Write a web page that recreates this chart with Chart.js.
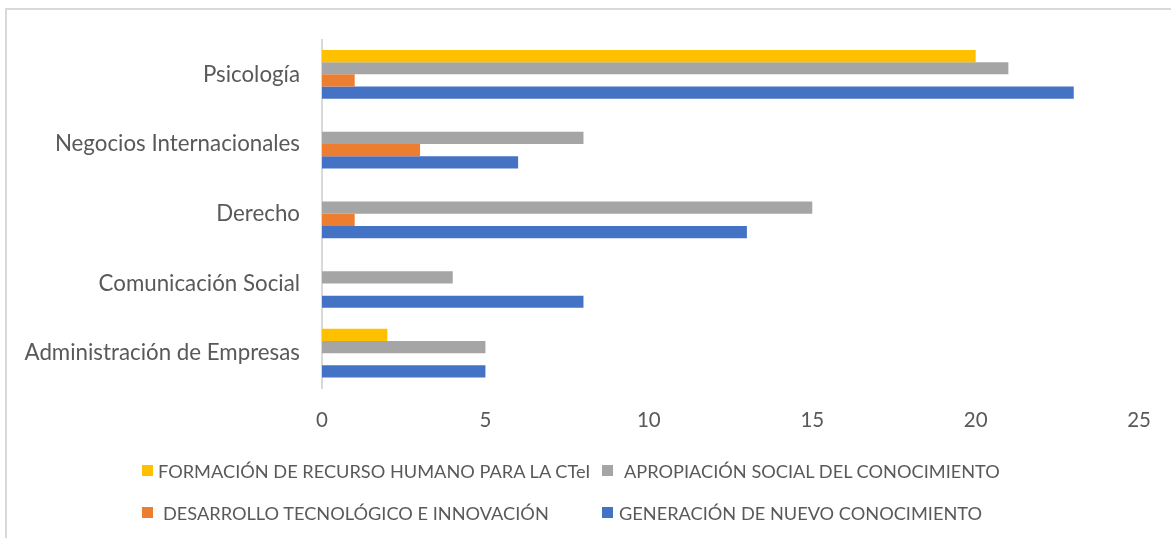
<!DOCTYPE html>
<html>
<head>
<meta charset="utf-8">
<script src="https://cdn.jsdelivr.net/npm/chart.js@4"></script>
<style>
  body { margin: 0; background: #fff; }
  #wrap { position: relative; width: 1171px; height: 538px; overflow: hidden; font-family: Lato, sans-serif; }
  #frame { position: absolute; left: 5px; top: 8px; width: 1200px; height: 600px; border: 2px solid #d9d9d9; box-sizing: border-box; }
  #grafico { position: absolute; left: 0; top: 0; }
  .ley { position: absolute; font-size: 18.2px; color: #595959; white-space: nowrap; line-height: 20px; }
  .cuadro { position: absolute; width: 11px; height: 11px; }
</style>
</head>
<body>
<div id="wrap">
  <div id="frame"></div>
  <canvas id="grafico" width="1171" height="538"></canvas>
  <div id="leyenda"></div>
</div>
<script>
var programas = ["Psicología", "Negocios Internacionales", "Derecho", "Comunicación Social", "Administración de Empresas"];
var formacion = [20, 0, 0, 0, 2];
var apropiacion = [21, 8, 15, 4, 5];
var desarrollo = [1, 3, 1, 0, 0];
var generacion = [23, 6, 13, 8, 5];
var ticksX = [0, 5, 10, 15, 20, 25];

var series = [
    { label: "FORMACIÓN DE RECURSO HUMANO PARA LA CTeI", data: formacion, color: "#FFC000" },
    { label: "APROPIACIÓN SOCIAL DEL CONOCIMIENTO", data: apropiacion, color: "#A5A5A5" },
    { label: "DESARROLLO TECNOLÓGICO E INNOVACIÓN", data: desarrollo, color: "#ED7D31" },
    { label: "GENERACIÓN DE NUEVO CONOCIMIENTO", data: generacion, color: "#4472C4" }
];

// posiciones de la leyenda (cuadro x, texto x, y centro)
var posLeyenda = [
    [142, 158, 471],
    [602, 624, 471],
    [142, 163, 513],
    [602, 619, 513]
];

let ctx = document.getElementById("grafico").getContext("2d");
let grafico = new Chart(ctx, {
    type: "bar",
    data: {
        labels: programas,
        datasets: series.map(function (s) {
            return {
                label: s.label,
                data: s.data,
                backgroundColor: s.color,
                categoryPercentage: 0.70,
                barPercentage: 1.0
            };
        })
    },
    options: {
        indexAxis: "y",
        responsive: false,
        animation: false,
        layout: { padding: { left: 0, right: 31, top: 39.5, bottom: 0 } },
        plugins: {
            legend: { display: false },
            tooltip: { enabled: false }
        },
        scales: {
            x: {
                min: 0,
                max: 25,
                afterBuildTicks: function (scale) {
                    scale.ticks = ticksX.map(function (v) { return { value: v }; });
                },
                grid: { display: false, drawTicks: false },
                border: { display: false },
                ticks: {
                    padding: 20,
                    color: "#595959",
                    font: { family: "Lato", size: 20.5 }
                },
                afterFit: function (scale) { scale.height = 150; }
            },
            y: {
                grid: { display: false, drawTicks: false },
                border: { display: true, color: "#d9d9d9", width: 2 },
                ticks: {
                    padding: 22,
                    color: "#595959",
                    font: { family: "Lato", size: 22.3 }
                },
                afterFit: function (scale) { scale.width = 322; }
            }
        }
    }
});

var leyenda = document.getElementById("leyenda");
series.forEach(function (s, i) {
    var p = posLeyenda[i];
    var c = document.createElement("div");
    c.className = "cuadro";
    c.style.background = s.color;
    c.style.left = p[0] + "px";
    c.style.top = (p[2] - 6) + "px";
    leyenda.appendChild(c);
    var t = document.createElement("div");
    t.className = "ley";
    t.textContent = s.label;
    t.style.left = p[1] + "px";
    t.style.top = (p[2] - 10) + "px";
    leyenda.appendChild(t);
});
</script>
</body>
</html>
